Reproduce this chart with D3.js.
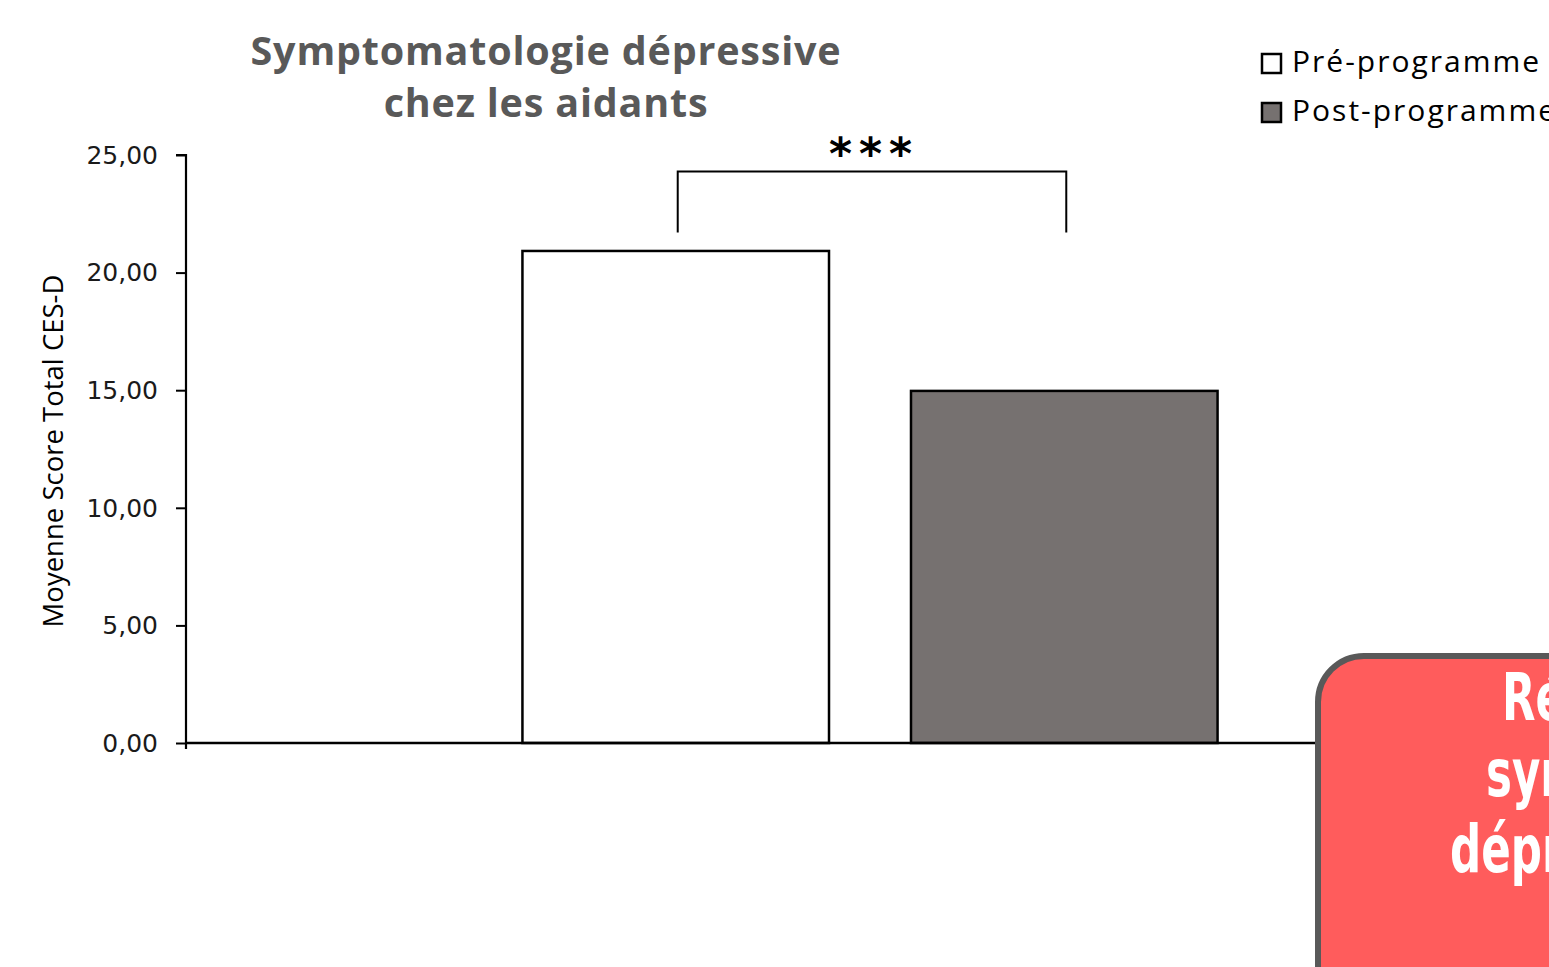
<!DOCTYPE html>
<html><head><meta charset="utf-8">
<script src="https://cdn.jsdelivr.net/npm/d3@7"></script>
<style>html,body{margin:0;padding:0;background:#fff;overflow:hidden}</style>
</head><body>
<svg id="c" width="1549" height="967"></svg>
<script>
const groups = ["Aidants"];
const series = ["Pré-programme", "Post-programme"];
const values = [20.92, 14.97];
const colors = ["#ffffff", "#767170"];
const yTicks = [0, 5, 10, 15, 20, 25];
const titleLines = ["Symptomatologie dépressive", "chez les aidants"];
const yLabel = "Moyenne Score Total CES-D";
const sigLabel = "***";
const sigLevels = [21.7, 24.3];
const boxLines = ["Réduction", "symptomatologie", "dépressive"];

(function () {
const svg = d3.select("#c");
const pLeft = 186, pRight = 1554, pTop = 155, pBottom = 743;

const y = d3.scaleLinear().domain([0, 25]).range([pBottom, pTop]);
const x0 = d3.scaleBand().domain(groups).range([pLeft, pRight]).paddingInner(0).paddingOuter(0.484);
const x1 = d3.scaleBand().domain(series).range([0, x0.bandwidth()]).paddingInner(0.211).paddingOuter(0);

// title
svg.append("g").selectAll("text").data(titleLines).join("text")
  .attr("x", 546).attr("y", (d, i) => 65 + i * 52)
  .attr("text-anchor", "middle")
  .attr("font-family", "Open Sans").attr("font-weight", "bold")
  .attr("font-size", 39.5).attr("letter-spacing", 0.8).attr("fill", "#595959").text(d => d);

// bars
const g = svg.append("g").attr("transform", `translate(${x0(groups[0])},0)`);
g.selectAll("rect").data(series).join("rect")
  .attr("x", d => x1(d)).attr("width", x1.bandwidth())
  .attr("y", (d, i) => y(values[i])).attr("height", (d, i) => y(0) - y(values[i]))
  .attr("fill", (d, i) => colors[i]).attr("stroke", "#000").attr("stroke-width", 2.5);

// y axis
const yAxis = d3.axisLeft(y).tickValues(yTicks).tickSize(10).tickPadding(18)
  .tickFormat(d => d3.format(".2f")(d).replace(".", ","));
const ya = svg.append("g").attr("transform", `translate(${pLeft},0)`).call(yAxis);
ya.select(".domain").attr("stroke", "#000").attr("stroke-width", 2.2).attr("d", `M-10,${pTop}H0V${pBottom + 6}`);
ya.selectAll(".tick line").attr("stroke", "#000").attr("stroke-width", 2);
ya.selectAll(".tick text").attr("font-family", "DejaVu Sans").attr("font-size", 25).attr("fill", "#1a1a1a").attr("dy", "0.33em");

// x axis baseline
svg.append("line").attr("x1", pLeft).attr("x2", pRight).attr("y1", y(0)).attr("y2", y(0))
  .attr("stroke", "#000").attr("stroke-width", 2.5);

// y label
svg.append("text").attr("transform", `translate(63,${(pTop + pBottom) / 2 + 2}) rotate(-90)`)
  .attr("text-anchor", "middle").attr("font-family", "Open Sans").attr("font-size", 27.5)
  .attr("fill", "#000").text(yLabel);

// significance bracket
const cx = series.map(s => x0(groups[0]) + x1(s) + x1.bandwidth() / 2 + 2);
svg.append("path")
  .attr("d", `M${cx[0]},${y(sigLevels[0])}V${y(sigLevels[1])}H${cx[1]}V${y(sigLevels[0])}`)
  .attr("fill", "none").attr("stroke", "#000").attr("stroke-width", 2);
svg.append("text").attr("x", (cx[0] + cx[1]) / 2 + 2).attr("y", y(sigLevels[1]) - 2)
  .attr("text-anchor", "middle").attr("font-family", "DejaVu Sans").attr("font-weight", "bold")
  .attr("font-size", 44).attr("letter-spacing", 7).attr("fill", "#000").text(sigLabel);

// legend
const lg = svg.append("g").selectAll("g").data(series).join("g")
  .attr("transform", (d, i) => `translate(1262,${54 + i * 49})`);
lg.append("rect").attr("width", 19).attr("height", 19)
  .attr("fill", (d, i) => colors[i]).attr("stroke", "#000").attr("stroke-width", 2.5);
lg.append("text").attr("x", 30).attr("y", 18).attr("font-family", "Open Sans")
  .attr("font-size", 30).attr("letter-spacing", 2).attr("fill", "#000").text(d => d);

// callout box
svg.append("rect").attr("x", 1318).attr("y", 656).attr("width", 420).attr("height", 420)
  .attr("rx", 46).attr("fill", "#ff5c5c").attr("stroke", "#595959").attr("stroke-width", 6);
const bx = [1502, 1486, 1450];
svg.append("g").selectAll("text").data(boxLines).join("text")
  .attr("transform", (d, i) => `translate(${bx[i]},${720 + i * 76}) scale(0.66,1)`)
  .attr("font-family", "DejaVu Sans").attr("font-weight", "bold")
  .attr("font-size", 66).attr("fill", "#fff").text(d => d);
})();
</script>
</body></html>
